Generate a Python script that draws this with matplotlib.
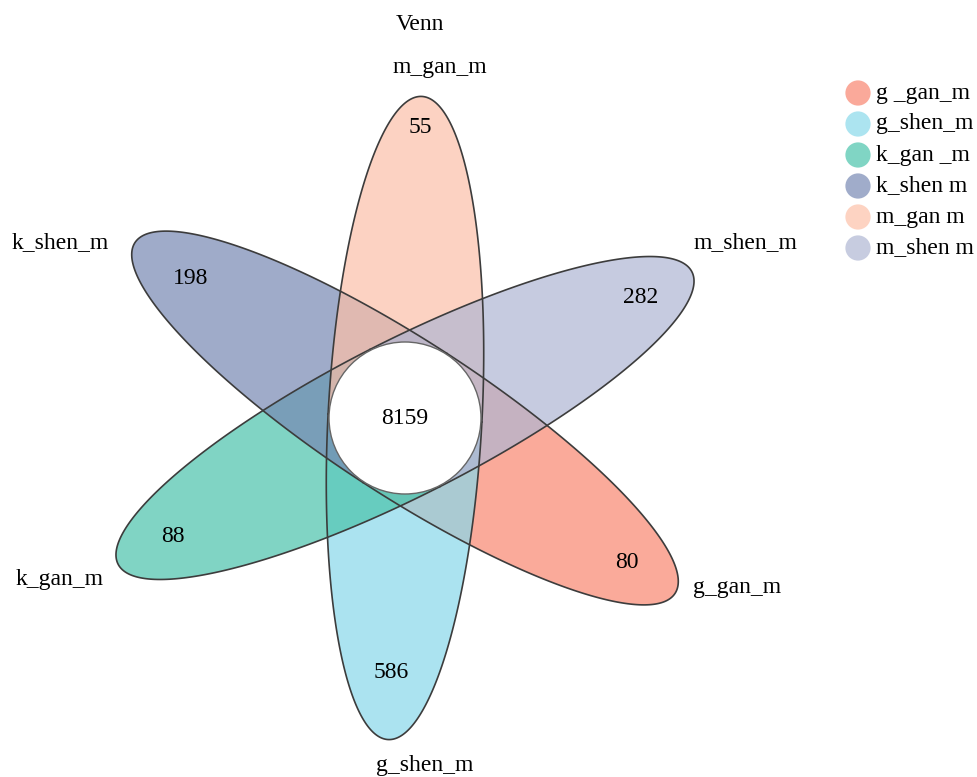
"""Flower-style Venn plot: six petals around a shared core."""

import numpy as np
import matplotlib
matplotlib.use("Agg")
import matplotlib.pyplot as plt
from matplotlib.patches import Polygon, Circle

# --- data ---------------------------------------------------------------
groups = ["g_gan_m", "g_shen_m", "k_gan_m", "k_shen_m", "m_gan_m", "m_shen_m"]
unique_counts = [80, 586, 88, 198, 55, 282]
core_count = 8159
legend_labels = ["g _gan_m", "g_shen_m", "k_gan _m", "k_shen m", "m_gan m", "m_shen m"]

# --- layout / style ---------------------------------------------------------
petal_angle = [-33, -93, 207, 147, 87, 27]          # visual direction, degrees
fill_colors = ["#F88670", "#88D8EA", "#4AC3AB", "#7788B3", "#FCC0A8", "#AFB6D3"]
legend_colors = ["#FAA99A", "#ACE4F0", "#80D5C4", "#A0ACCA", "#FDD3C2", "#C7CCE0"]
label_radius = [265, 255, 260, 256, 291, 265]
outer_label_xy = [(737, 587), (425, 766), (60, 580), (60, 243), (440, 68), (745, 243)]

W, H = 978, 777
cx, cy = 405, 418
petal_len, petal_half_w = 322, 77
core_r = 76

plt.rcParams["font.family"] = ["Liberation Serif", "DejaVu Serif"]
FS = 17


def petal_outline(ang_deg):
    """Half ellipse from the core centre out to the tip, in pixel coords."""
    t = np.linspace(-np.pi / 2, np.pi / 2, 200)
    u = petal_len * np.cos(t)          # along the petal axis
    v = petal_half_w * np.sin(t)       # across it
    a = np.deg2rad(ang_deg)
    x = cx + u * np.cos(a) - v * np.sin(a)
    y = cy - (u * np.sin(a) + v * np.cos(a))
    return np.column_stack([x, y])


fig = plt.figure(figsize=(W / 100, H / 100), dpi=100)
ax = fig.add_axes([0, 0, 1, 1])
ax.set_xlim(0, W)
ax.set_ylim(H, 0)
ax.set_aspect("equal")
ax.axis("off")

for name, n, ang, col, lr, (tx, ty) in zip(groups, unique_counts, petal_angle,
                                           fill_colors, label_radius, outer_label_xy):
    pts = petal_outline(ang)
    ax.add_patch(Polygon(pts, closed=True, facecolor=col, alpha=0.7,
                         edgecolor="none", zorder=2))
    ax.add_patch(Polygon(pts, closed=True, facecolor="none", edgecolor="#3c3c3c",
                         linewidth=1.2, zorder=3))
    a = np.deg2rad(ang)
    ax.text(cx + lr * np.cos(a), cy - lr * np.sin(a), str(n), fontsize=FS,
            ha="center", va="center", zorder=5)
    ax.text(tx, ty, name, fontsize=FS, ha="center", va="center", zorder=5)

ax.add_patch(Circle((cx, cy), core_r, facecolor="white", edgecolor="#666666",
                    linewidth=1.0, zorder=4))
ax.text(cx, cy, str(core_count), fontsize=FS, ha="center", va="center", zorder=5)

ax.text(420, 24, "Venn", fontsize=FS, ha="center", va="center")

# legend, drawn by hand to sit in the top-right corner
for i, (lab, col) in enumerate(zip(legend_labels, legend_colors)):
    y = 93 + i * 31
    ax.scatter([858], [y], s=330, color=col, edgecolors="none", zorder=5)
    ax.text(876, y, lab, fontsize=FS, ha="left", va="center")

fig.savefig("out.png", dpi=100)
